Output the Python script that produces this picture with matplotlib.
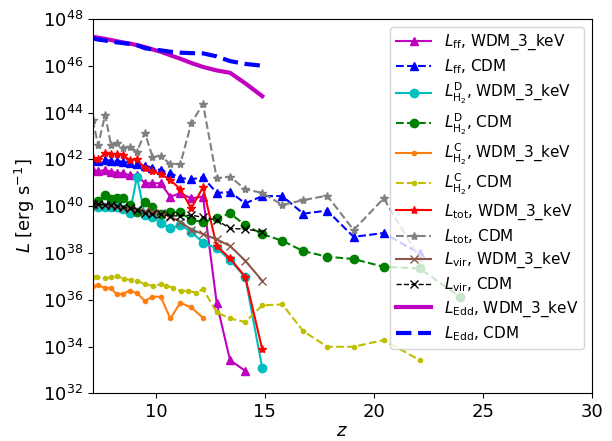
import numpy as np
import matplotlib
matplotlib.use("Agg")
import matplotlib.pyplot as plt

# redshift grids of the two runs
z_wdm = [7.1, 7.35, 7.67, 7.94, 8.2, 8.48, 8.8, 9.13, 9.49, 9.84, 10.22,
         10.66, 11.12, 11.62, 12.16, 12.79, 13.4, 14.1, 14.88]
z_cdm = z_wdm + [15.8, 16.76, 17.86, 19.07, 20.45, 22.1, 23.95]
z_h2c_cdm = [7.1, 7.31, 7.65, 7.93, 8.23, 8.54, 8.84, 9.15, 9.51, 9.87, 10.22,
             10.48, 10.78, 11.14, 11.47, 11.85, 12.16, 12.79, 13.4, 14.1, 14.88,
             15.8, 16.76, 17.86, 19.07, 20.45, 22.1]

# log10 luminosities [erg/s]
logL_ff_wdm = [41.54, 41.50, 41.54, 41.47, 41.43, 41.40, 41.33, 41.33, 40.98, 40.98,
               40.98, 40.40, 40.56, 40.33, 40.41, 35.85, 33.42, 32.96]
logL_ff_cdm = [42.0, 41.95, 41.97, 41.95, 41.93, 41.90, 41.86, 41.80, 41.72, 41.65,
               41.54, 41.42, 41.20, 41.15, 41.23, 40.57, 40.60, 40.12, 40.43, 40.43,
               39.68, 39.81, 38.69, 38.85, 37.98]
logL_h2d_wdm = [40.0, 39.98, 39.95, 39.97, 39.95, 39.90, 39.69, 41.26, 39.62, 39.55,
                39.29, 39.05, 39.19, 38.91, 38.44, 38.20, 37.70, 36.96, 33.07]
logL_h2d_cdm = [40.12, 40.23, 40.48, 40.29, 40.33, 40.33, 40.05, 39.76, 40.19, 39.95,
                39.66, 39.76, 39.74, 39.41, 39.33, 39.48, 39.69, 39.19, 38.81, 38.52,
                38.08, 37.84, 37.74, 37.41, 37.34, 36.13]
logL_h2c_wdm = [36.58, 36.61, 36.51, 36.50, 36.23, 36.26, 36.39, 36.28, 35.95, 36.13,
                36.13, 35.20, 35.87, 35.67, 35.23]
logL_h2c_cdm = [36.96, 36.96, 36.91, 36.96, 37.01, 36.90, 36.84, 36.81, 36.66, 36.60,
                36.66, 36.60, 36.51, 36.38, 36.37, 36.31, 36.46, 35.46, 35.20, 35.05,
                35.76, 35.80, 34.66, 33.99, 33.99, 34.28, 33.42]
logL_tot_wdm = [42.04, 42.0, 42.26, 42.22, 42.22, 42.19, 41.97, 42.0, 41.62, 41.50,
                41.37, 41.12, 40.72, 39.91, 40.80, 38.29, 37.77, 36.98, 33.88]
logL_tot_cdm = [43.68, 42.61, 43.90, 42.61, 42.71, 42.50, 42.54, 42.33, 43.14, 42.12,
                42.14, 41.80, 41.80, 43.54, 44.37, 41.19, 41.26, 40.72, 40.57, 40.05,
                40.26, 40.45, 38.98, 40.33, 37.77]
logL_vir_wdm = [40.05, 40.07, 40.03, 40.0, 39.98, 39.92, 39.88, 39.82, 39.78, 39.74,
                39.69, 39.55, 39.33, 39.0, 38.81, 38.58, 38.30, 37.67, 36.81]
logL_vir_cdm = [40.09, 40.09, 40.05, 40.05, 40.02, 39.95, 39.91, 39.85, 39.69, 39.66,
                39.66, 39.58, 39.59, 39.62, 39.52, 39.41, 39.05, 39.02, 38.91]
logL_edd_wdm = [47.24, 47.2, 47.15, 47.1, 47.05, 47.0, 46.95, 46.88, 46.8, 46.7,
                46.6, 46.45, 46.3, 46.12, 45.95, 45.8, 45.7, 45.25, 44.7]
logL_edd_cdm = [47.17, 47.12, 47.08, 47.03, 47.0, 46.97, 46.93, 46.88, 46.75, 46.7,
                46.66, 46.6, 46.56, 46.54, 46.53, 46.4, 46.2, 46.08, 46.0]

wdm = 'WDM_3_keV'
cdm = 'CDM'

def L(v):
    return 10.0 ** np.array(v)

fig = plt.figure(figsize=(6.12, 4.41), dpi=100)
ax = fig.add_axes([0.1515, 0.108, 0.8155, 0.849])

ax.plot(z_wdm[:len(logL_ff_wdm)], L(logL_ff_wdm), 'm-^', label=r'$L_{\rm ff}$, ' + wdm)
ax.plot(z_cdm[:len(logL_ff_cdm)], L(logL_ff_cdm), 'b--^', label=r'$L_{\rm ff}$, ' + cdm)
ax.plot(z_wdm, L(logL_h2d_wdm), 'c-o', label=r'$L_{\rm H_2}^{\rm D}$, ' + wdm)
ax.plot(z_cdm, L(logL_h2d_cdm), 'g--o', label=r'$L_{\rm H_2}^{\rm D}$, ' + cdm)
ax.plot(z_wdm[:len(logL_h2c_wdm)], L(logL_h2c_wdm), color='tab:orange',
        linestyle='-', marker='.', label=r'$L_{\rm H_2}^{\rm C}$, ' + wdm)
ax.plot(z_h2c_cdm, L(logL_h2c_cdm), 'y--.', label=r'$L_{\rm H_2}^{\rm C}$, ' + cdm)
ax.plot(z_wdm, L(logL_tot_wdm), 'r-*', label=r'$L_{\rm tot}$, ' + wdm)
ax.plot(z_cdm[:len(logL_tot_cdm)], L(logL_tot_cdm), '--*', color='grey',
        label=r'$L_{\rm tot}$, ' + cdm)
ax.plot(z_wdm, L(logL_vir_wdm), '-x', color='tab:brown', label=r'$L_{\rm vir}$, ' + wdm)
ax.plot(z_wdm, L(logL_vir_cdm), 'k--x', lw=1, label=r'$L_{\rm vir}$, ' + cdm)
ax.plot(z_wdm, L(logL_edd_wdm), 'm-', lw=3, label=r'$L_{\rm Edd}$, ' + wdm)
ax.plot(z_wdm, L(logL_edd_cdm), 'b--', lw=3, label=r'$L_{\rm Edd}$, ' + cdm)

ax.set_yscale('log')
ax.set_xlim(7.1, 30)
ax.set_ylim(1e32, 1e48)
ax.set_xticks([10, 15, 20, 25, 30])
ax.tick_params(labelsize=13)
ax.set_xlabel(r'$z$', fontsize=13, labelpad=1)
ax.set_ylabel(r'$L$ [erg s$^{-1}$]', fontsize=13)
ax.legend(loc='upper right', fontsize=11, handlelength=2.3, labelspacing=0.34)

fig.savefig('out.png', dpi=100)
